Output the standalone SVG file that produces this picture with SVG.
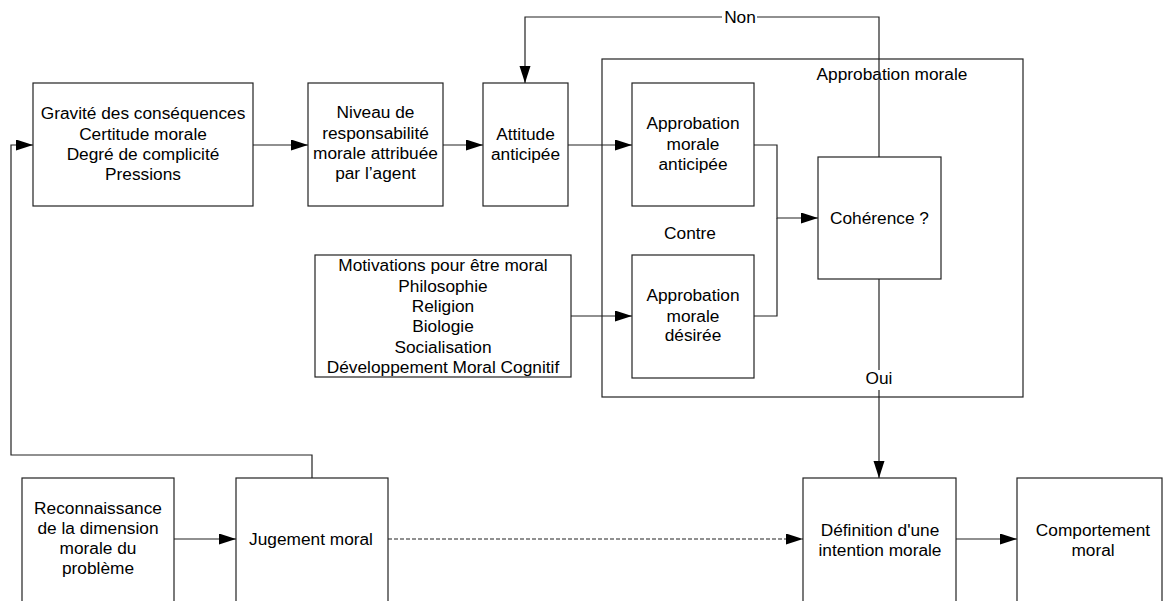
<svg xmlns="http://www.w3.org/2000/svg" width="1163" height="601" viewBox="0 0 1163 601">
<style>
  .box { fill: #fff; stroke: #222; stroke-width: 1.2; }
  .frame { fill: none; stroke: #222; stroke-width: 1.2; }
  .t { font-family: "Liberation Sans", Arial, sans-serif; font-size: 17.3px; fill: #000; text-anchor: middle; }
  .c { fill: none; stroke: #222; stroke-width: 1.2; }
  .dash { stroke-dasharray: 4 2; }
  .bg { fill: #fff; stroke: none; }
</style>
<defs>
  <marker id="arr" markerUnits="userSpaceOnUse" markerWidth="18" markerHeight="12" refX="17" refY="5.5" orient="auto">
    <path d="M0,0 L17,5.5 L0,11 Z" fill="#000"/>
  </marker>
</defs>
<rect width="1163" height="601" fill="#fff"/>

<g id="approbation-morale">
  <rect class="frame" x="602" y="59" width="421" height="338"/>
  <text class="t" x="892" y="80">Approbation morale</text>
  <text class="t" x="690" y="239">Contre</text>
</g>

<g id="connectors">
  <path class="c" d="M312,478 V455 H11 V145 H33" marker-end="url(#arr)"/>
  <path class="c" d="M253,145 H308" marker-end="url(#arr)"/>
  <path class="c" d="M443,145 H483" marker-end="url(#arr)"/>
  <path class="c" d="M568,145 H632" marker-end="url(#arr)"/>
  <path class="c" d="M879,157 V17 H525 V83" marker-end="url(#arr)"/>
  <path class="c" d="M754,145 H777 V218 H818" marker-end="url(#arr)"/>
  <path class="c" d="M754,316 H777 V218"/>
  <path class="c" d="M571,316 H632" marker-end="url(#arr)"/>
  <path class="c" d="M879,279 V478" marker-end="url(#arr)"/>
  <path class="c" d="M174,539 H236" marker-end="url(#arr)"/>
  <path class="c dash" d="M388,539 H803" marker-end="url(#arr)"/>
  <path class="c" d="M956,539 H1017" marker-end="url(#arr)"/>
  <rect class="bg" x="722" y="8" width="35" height="19"/>
  <text class="t" x="740" y="23">Non</text>
  <rect class="bg" x="866" y="370" width="27" height="20"/>
  <text class="t" x="879" y="384">Oui</text>
</g>

<g id="n-gravite">
  <rect class="box" x="33" y="83" width="220" height="123"/>
  <text class="t" x="143" y="119">Gravité des conséquences</text>
  <text class="t" x="143" y="139.5">Certitude morale</text>
  <text class="t" x="143" y="160">Degré de complicité</text>
  <text class="t" x="143" y="180">Pressions</text>
</g>

<g id="n-niveau">
  <rect class="box" x="308" y="83" width="135" height="123"/>
  <text class="t" x="375.5" y="118">Niveau de</text>
  <text class="t" x="375.5" y="138.5">responsabilité</text>
  <text class="t" x="375.5" y="159">morale attribuée</text>
  <text class="t" x="375.5" y="179">par l’agent</text>
</g>

<g id="n-attitude">
  <rect class="box" x="483" y="83" width="85" height="123"/>
  <text class="t" x="525.5" y="140">Attitude</text>
  <text class="t" x="525.5" y="160">anticipée</text>
</g>

<g id="n-anticipee">
  <rect class="box" x="632" y="83" width="122" height="123"/>
  <text class="t" x="693" y="129">Approbation</text>
  <text class="t" x="693" y="150">morale</text>
  <text class="t" x="693" y="170">anticipée</text>
</g>

<g id="n-desiree">
  <rect class="box" x="632" y="255" width="122" height="123"/>
  <text class="t" x="693" y="301">Approbation</text>
  <text class="t" x="693" y="322">morale</text>
  <text class="t" x="693" y="341">désirée</text>
</g>

<g id="n-coherence">
  <rect class="box" x="818" y="157" width="123" height="122"/>
  <text class="t" x="879.5" y="224">Cohérence ?</text>
</g>

<g id="n-motivations">
  <rect class="box" x="315" y="255" width="256" height="122"/>
  <text class="t" x="443" y="271">Motivations pour être moral</text>
  <text class="t" x="443" y="291.5">Philosophie</text>
  <text class="t" x="443" y="312">Religion</text>
  <text class="t" x="443" y="332">Biologie</text>
  <text class="t" x="443" y="352.5">Socialisation</text>
  <text class="t" x="443" y="373">Développement Moral Cognitif</text>
</g>

<g id="n-reconnaissance">
  <rect class="box" x="22" y="478" width="152" height="130"/>
  <text class="t" x="98" y="514">Reconnaissance</text>
  <text class="t" x="98" y="534">de la dimension</text>
  <text class="t" x="98" y="554">morale du</text>
  <text class="t" x="98" y="574">problème</text>
</g>

<g id="n-jugement">
  <rect class="box" x="236" y="478" width="152" height="130"/>
  <text class="t" x="311" y="545">Jugement moral</text>
</g>

<g id="n-definition">
  <rect class="box" x="803" y="478" width="153" height="130"/>
  <text class="t" x="880" y="536">Définition d'une</text>
  <text class="t" x="880" y="556">intention morale</text>
</g>

<g id="n-comportement">
  <rect class="box" x="1017" y="478" width="145" height="130"/>
  <text class="t" x="1093" y="536">Comportement</text>
  <text class="t" x="1093" y="556">moral</text>
</g>
</svg>
